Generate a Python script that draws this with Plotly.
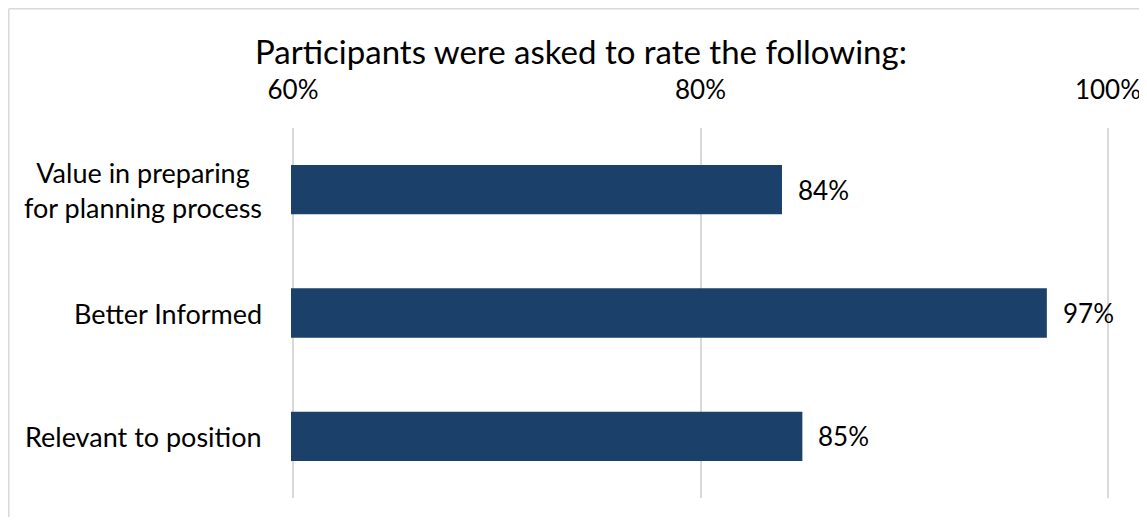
import plotly.graph_objects as go

categories = ["Value in preparing<br>for planning process", "Better Informed", "Relevant to position"]
values = [84, 97, 85]
value_labels = ["84%", "97%", "85%"]
tick_vals = [60, 80, 100]
tick_text = ["60%", "80%", "100%"]
title_text = "Participants were asked to rate the following:"

FONT = "Lato"
TXT = "#000000"
BAR = "#1B406A"

# page body has an 8px default margin; figure is sized to compensate
W, H = 1139, 509
L, R, T, B = 283, 37, 120, 19
PW = W - L - R  # 819
PH = H - T - B  # 370

fig = go.Figure()
fig.add_trace(go.Bar(
    x=values, y=categories, orientation="h",
    marker=dict(color=BAR, line=dict(width=0)),
    hoverinfo="skip",
))

annotations = []
for c, v, t in zip(categories, values, value_labels):
    annotations.append(dict(x=v, y=c, xref="x", yref="y", text=t, showarrow=False,
                            xanchor="left", yanchor="middle", xshift=14,
                            font=dict(family=FONT, size=26, color=TXT)))
    annotations.append(dict(x=0, y=c, xref="paper", yref="y", text=c, showarrow=False,
                            xanchor="right", yanchor="middle", align="center", xshift=-27,
                            font=dict(family=FONT, size=27, color=TXT)))

bx = (8.75 - 8 - L) / PW
by = (498 - 8.75) / PH
fig.update_layout(
    width=W, height=H,
    margin=dict(l=L, r=R, t=T, b=B, pad=0, autoexpand=False),
    paper_bgcolor="white", plot_bgcolor="white",
    showlegend=False,
    bargap=0.6,
    title=dict(text=title_text, xref="container", yref="container",
               x=(581 - 8) / W, y=1 - (52 - 8) / H, xanchor="center", yanchor="middle",
               font=dict(family=FONT, size=33, color=TXT)),
    xaxis=dict(range=[59.9, 100.1], side="top", tickvals=tick_vals, ticktext=tick_text,
               showgrid=True, gridcolor="#D9D9D9", gridwidth=1.5,
               zeroline=False, showline=False, ticks="", ticklabelstandoff=23,
               ticklabeloverflow="allow", automargin=False,
               tickfont=dict(family=FONT, size=26, color=TXT), fixedrange=True),
    yaxis=dict(autorange="reversed", showticklabels=False, showgrid=False,
               zeroline=False, showline=False, ticks="", fixedrange=True,
               automargin=False),
    annotations=annotations,
    shapes=[
        dict(type="line", xref="paper", yref="paper", x0=bx, x1=bx, y0=by, y1=-0.2,
             line=dict(color="#D9D9D9", width=1.5)),
        dict(type="line", xref="paper", yref="paper", x0=bx, x1=1.2, y0=by, y1=by,
             line=dict(color="#D9D9D9", width=1.5)),
    ],
)

fig.write_html("out.html")
